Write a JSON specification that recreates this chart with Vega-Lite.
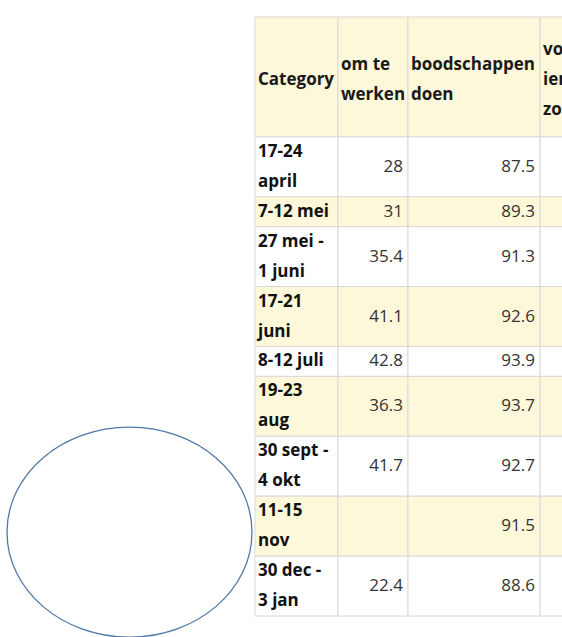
{
  "$schema": "https://vega.github.io/schema/vega-lite/v6.json",
  "width": 562,
  "height": 637,
  "autosize": {"type": "fit", "contains": "padding"},
  "padding": 0,
  "background": "white",
  "config": {"view": {"stroke": null}},
  "datasets": {
    "table": [
      {"Category": "17-24\napril", "om te werken": 28, "boodschappen doen": 87.5},
      {"Category": "7-12 mei", "om te werken": 31, "boodschappen doen": 89.3},
      {"Category": "27 mei -\n1 juni", "om te werken": 35.4, "boodschappen doen": 91.3},
      {"Category": "17-21\njuni", "om te werken": 41.1, "boodschappen doen": 92.6},
      {"Category": "8-12 juli", "om te werken": 42.8, "boodschappen doen": 93.9},
      {"Category": "19-23\naug", "om te werken": 36.3, "boodschappen doen": 93.7},
      {"Category": "30 sept -\n4 okt", "om te werken": 41.7, "boodschappen doen": 92.7},
      {"Category": "11-15\nnov", "om te werken": null, "boodschappen doen": 91.5},
      {"Category": "30 dec -\n3 jan", "om te werken": 22.4, "boodschappen doen": 88.6}
    ],
    "columns": [
      {"col": "Category", "label": "Category", "x0": 255, "x1": 338},
      {"col": "om te werken", "label": "om te\nwerken", "x0": 338, "x1": 408},
      {"col": "boodschappen doen", "label": "boodschappen\ndoen", "x0": 408, "x1": 540},
      {"col": "vo", "label": "vo\nien\nzo", "x0": 540, "x1": 660}
    ],
    "note": [{"mark": "ellipse"}]
  },
  "layer": [
    {
      "data": {"name": "columns"},
      "mark": {"type": "rect", "fill": "#fdf8d9", "stroke": "#d9d9d9", "strokeWidth": 1, "clip": true},
      "encoding": {
        "x": {"field": "x0", "type": "quantitative", "scale": {"domain": [0, 562], "nice": false, "zero": false}, "axis": null},
        "x2": {"field": "x1"},
        "y": {"datum": 0, "type": "quantitative", "scale": {"domain": [-0.5676, 20.701], "nice": false, "zero": false, "reverse": true}, "axis": null},
        "y2": {"datum": 4}
      }
    },
    {
      "data": {"name": "table"},
      "transform": [
        {"calculate": "length(split(datum.Category, '\\n'))", "as": "lines"},
        {"window": [{"op": "row_number", "as": "idx"}, {"op": "sum", "field": "lines", "as": "cum"}], "frame": [null, 0]},
        {"calculate": "4 + datum.cum - datum.lines", "as": "start"},
        {"calculate": "4 + datum.cum", "as": "end"},
        {"calculate": "(datum.start + datum.end) / 2", "as": "mid"},
        {"calculate": "datum.mid - (datum.lines - 1) / 2", "as": "firstline"},
        {"fold": ["Category", "om te werken", "boodschappen doen", "vo"], "as": ["col", "value"]},
        {"lookup": "col", "from": {"data": {"name": "columns"}, "key": "col", "fields": ["x0", "x1"]}}
      ],
      "layer": [
        {
          "mark": {"type": "rect", "stroke": "#d9d9d9", "strokeWidth": 1, "clip": true},
          "encoding": {
            "x": {"field": "x0", "type": "quantitative", "axis": null},
            "x2": {"field": "x1"},
            "y": {"field": "start", "type": "quantitative", "axis": null},
            "y2": {"field": "end"},
            "fill": {"condition": {"test": "datum.idx % 2 == 0", "value": "#fdf8d9"}, "value": "#ffffff"}
          }
        },
        {
          "transform": [{"filter": "datum.col == 'Category'"}],
          "mark": {"type": "text", "align": "left", "baseline": "middle", "dx": 3, "lineBreak": "\n", "lineHeight": 30, "font": "Open Sans", "fontSize": 17, "fontWeight": "bold", "color": "#111111", "clip": true},
          "encoding": {
            "x": {"field": "x0", "type": "quantitative", "axis": null},
            "y": {"field": "firstline", "type": "quantitative", "axis": null},
            "text": {"field": "value", "type": "nominal"}
          }
        },
        {
          "transform": [{"filter": "(datum.col == 'om te werken' || datum.col == 'boodschappen doen') && isValid(datum.value)"}],
          "mark": {"type": "text", "align": "right", "baseline": "middle", "dx": -5, "font": "Open Sans", "fontSize": 17, "color": "#333333", "clip": true},
          "encoding": {
            "x": {"field": "x1", "type": "quantitative", "axis": null},
            "y": {"field": "mid", "type": "quantitative", "axis": null},
            "text": {"field": "value", "type": "nominal"}
          }
        }
      ]
    },
    {
      "data": {"name": "columns"},
      "transform": [
        {"calculate": "length(split(datum.label, '\\n'))", "as": "lines"},
        {"calculate": "2.1 - (datum.lines - 1) / 2", "as": "firstline"}
      ],
      "mark": {"type": "text", "align": "left", "baseline": "middle", "dx": 3, "lineBreak": "\n", "lineHeight": 30, "font": "Open Sans", "fontSize": 17, "fontWeight": "bold", "color": "#1a1a1a", "clip": true},
      "encoding": {
        "x": {"field": "x0", "type": "quantitative", "axis": null},
        "y": {"field": "firstline", "type": "quantitative", "axis": null},
        "text": {"field": "label", "type": "nominal"}
      }
    },
    {
      "data": {"name": "note"},
      "mark": {"type": "point", "shape": "M-1,0A1,0.857,0,1,0,1,0A1,0.857,0,1,0,-1,0Z", "filled": false, "stroke": "#4f78a8", "strokeWidth": 1.3, "opacity": 1, "size": 60025, "clip": true},
      "encoding": {
        "x": {"datum": 129.5, "type": "quantitative", "axis": null},
        "y": {"datum": 17.2, "type": "quantitative", "axis": null}
      }
    }
  ]
}
